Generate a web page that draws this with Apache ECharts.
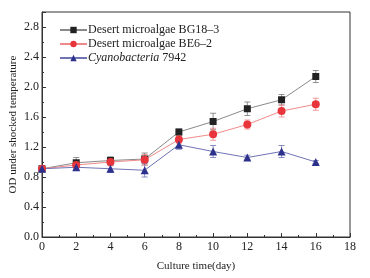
<!DOCTYPE html>
<html>
<head>
<meta charset="utf-8">
<script src="https://cdn.jsdelivr.net/npm/echarts@6/dist/echarts.min.js"></script>
<style>
html,body{margin:0;padding:0;background:#fff;}
#main{width:370px;height:278px;}
</style>
</head>
<body>
<div id="main"></div>
<script>
// 培养天数
var days = [0, 2, 4, 6, 8, 10, 12, 14, 16];
// 三个藻株的OD值
var bg18 = [0.91, 0.99, 1.02, 1.04, 1.40, 1.54, 1.71, 1.83, 2.14];
var be6 = [0.91, 0.96, 1.00, 1.03, 1.30, 1.37, 1.50, 1.68, 1.77];
var cyano = [0.91, 0.93, 0.91, 0.89, 1.23, 1.14, 1.06, 1.14, 1.00];
// 误差
var bg18Err = [0.03, 0.07, 0.05, 0.08, 0.04, 0.11, 0.09, 0.07, 0.08];
var be6Err = [0.03, 0.05, 0.05, 0.07, 0.05, 0.08, 0.06, 0.08, 0.08];
var cyanoErr = [0.02, 0.03, 0.05, 0.09, 0.06, 0.08, 0.03, 0.08, 0.02];
var names = ['Desert microalgae BG18\u20133', 'Desert microalgae BE6\u20132', 'Cyanobacteria 7942'];
var colors = ['#222222', '#e8353b', '#2d318c'];
var lineColors = ['#8a8a8a', '#f08a8a', '#6f74b5'];

var font = '"Liberation Serif", "DejaVu Serif", serif';

function pts(vals){
    return days.map(function(d, i){ return [d, vals[i]]; });
}
function errData(vals, errs){
    return days.map(function(d, i){ return [d, vals[i] - errs[i], vals[i] + errs[i]]; });
}
function errSeries(vals, errs, color){
    return {
        type: 'custom',
        data: errData(vals, errs),
        z: 1,
        silent: true,
        renderItem: function(params, api){
            var lo = api.coord([api.value(0), api.value(1)]);
            var hi = api.coord([api.value(0), api.value(2)]);
            var w = 3;
            var st = {stroke: color, lineWidth: 0.8};
            return {
                type: 'group',
                children: [
                    {type: 'line', shape: {x1: lo[0], y1: lo[1], x2: hi[0], y2: hi[1]}, style: st},
                    {type: 'line', shape: {x1: lo[0] - w, y1: lo[1], x2: lo[0] + w, y2: lo[1]}, style: st},
                    {type: 'line', shape: {x1: hi[0] - w, y1: hi[1], x2: hi[0] + w, y2: hi[1]}, style: st}
                ]
            };
        }
    };
}
function lineSeries(i, vals, symbol, size){
    return {
        name: names[i],
        type: 'line',
        data: pts(vals),
        symbol: symbol,
        symbolSize: size,
        z: 3,
        itemStyle: {color: colors[i]},
        lineStyle: {color: lineColors[i], width: 1}
    };
}

var myChart = echarts.init(document.getElementById('main'));
var option = {
    backgroundColor: '#fff',
    animation: false,
    textStyle: {fontFamily: font, color: '#222'},
    grid: {left: 42, right: 20, top: 12, bottom: 41, show: true, borderColor: '#333', borderWidth: 1,
           containLabel: false, outerBoundsMode: 'none'},
    legend: {
        left: 54,
        top: 19,
        orient: 'vertical',
        itemWidth: 27,
        itemHeight: 8,
        itemGap: 2,
        data: names,
        textStyle: {
            fontFamily: font, fontSize: 12, color: '#222', padding: [0, 0, 0, -4],
            rich: {
                it: {fontFamily: font, fontSize: 12, fontStyle: 'italic', color: '#222'},
                n: {fontFamily: font, fontSize: 12, color: '#222'}
            }
        },
        formatter: function(name){
            if (name.indexOf('Cyanobacteria') === 0) {
                return '{it|Cyanobacteria} {n|7942}';
            }
            return name;
        }
    },
    xAxis: {
        type: 'value',
        min: 0,
        max: 18,
        interval: 2,
        name: 'Culture time(day)',
        nameLocation: 'middle',
        nameGap: 24,
        nameMoveOverlap: false,
        nameTextStyle: {fontFamily: font, fontSize: 11, color: '#222'},
        axisLine: {lineStyle: {color: '#333'}},
        axisTick: {inside: true, length: 4, lineStyle: {color: '#333'}},
        minorTick: {show: true, splitNumber: 2, length: 2, lineStyle: {color: '#333'}},
        axisLabel: {fontFamily: font, fontSize: 12, color: '#222', margin: 4},
        splitLine: {show: false}
    },
    yAxis: {
        type: 'value',
        min: 0,
        max: 3.0,
        interval: 0.4,
        name: 'OD under shocked temperature',
        nameLocation: 'middle',
        nameGap: 23,
        nameMoveOverlap: false,
        nameTextStyle: {fontFamily: font, fontSize: 11, color: '#222'},
        axisLine: {show: true, lineStyle: {color: '#333'}},
        axisTick: {inside: true, length: 4, lineStyle: {color: '#333'}},
        minorTick: {show: true, splitNumber: 2, length: 2, lineStyle: {color: '#333'}},
        axisLabel: {
            fontFamily: font, fontSize: 12, color: '#222', margin: 3, showMaxLabel: false,
            formatter: function(v){ return v > 2.9 ? '' : v.toFixed(1); }
        },
        splitLine: {show: false}
    },
    series: [
        errSeries(bg18, bg18Err, '#777'),
        errSeries(be6, be6Err, '#ee8080'),
        errSeries(cyano, cyanoErr, '#6f74b5'),
        lineSeries(0, bg18, 'rect', 7),
        lineSeries(1, be6, 'circle', 8),
        lineSeries(2, cyano, 'triangle', 8)
    ]
};
myChart.setOption(option);
</script>
</body>
</html>
